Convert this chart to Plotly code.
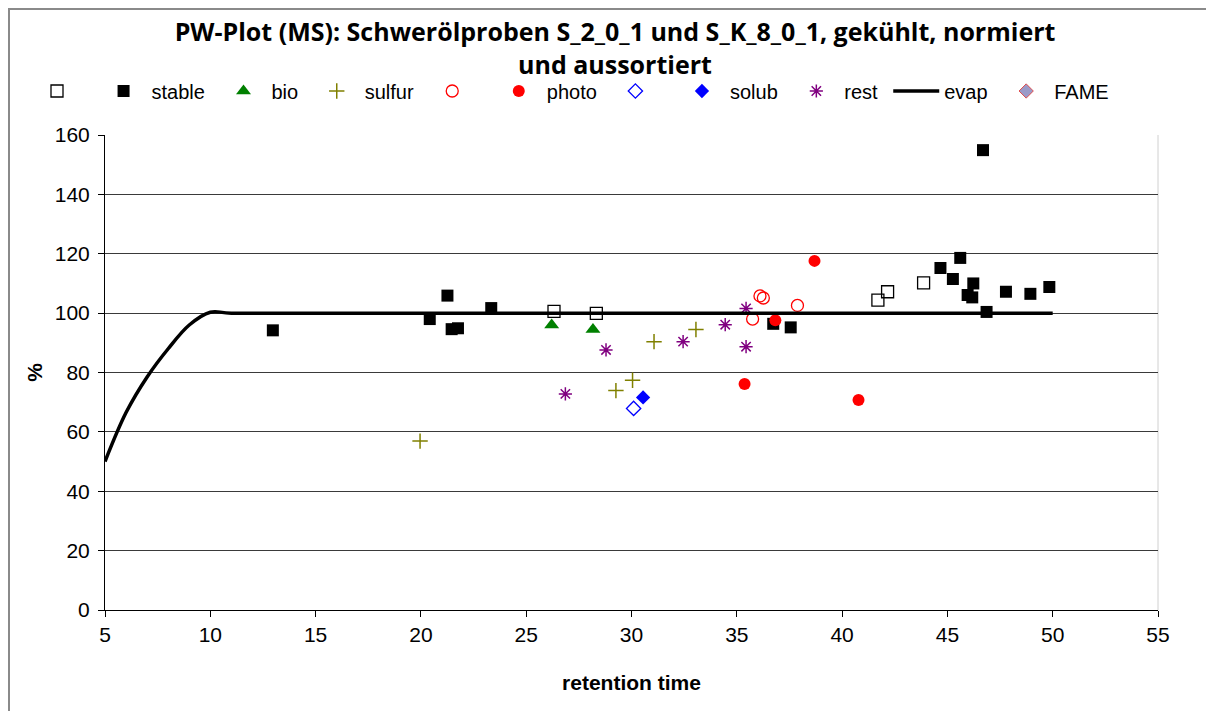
import plotly.graph_objects as go

# ---- data ----
open_sq_x = [26.32, 28.33, 41.70, 42.16, 43.87]
open_sq_y = [100.6, 99.9, 104.4, 107.2, 110.2]

stable_x = [12.97, 20.42, 21.26, 21.46, 21.76, 23.34, 36.73, 37.56, 44.67, 45.26, 45.61,
            46.69, 46.23, 45.96, 46.18, 46.86, 47.78, 48.94, 49.84]
stable_y = [94.2, 98.0, 105.9, 94.6, 94.9, 101.7, 96.4, 95.2, 115.2, 111.5, 118.6,
            154.9, 110.0, 106.1, 105.3, 100.4, 107.2, 106.5, 108.8]

bio_x = [26.21, 28.17]
bio_y = [96.0, 94.5]

sulfur_x = [19.96, 29.26, 30.05, 31.07, 33.06]
sulfur_y = [56.9, 73.9, 77.4, 90.4, 94.5]

open_circ_x = [35.75, 36.10, 36.26, 37.88]
open_circ_y = [98.0, 105.8, 105.1, 102.6]

photo_x = [38.69, 36.83, 35.37, 40.78]
photo_y = [117.6, 97.6, 76.1, 70.7]

open_dia_x = [30.10]
open_dia_y = [67.9]

solub_x = [30.55]
solub_y = [71.6]

rest_x = [26.86, 28.79, 32.45, 34.45, 35.44, 35.44]
rest_y = [72.8, 87.6, 90.4, 96.1, 101.6, 88.7]

evap_x = [5, 6, 7, 8, 9, 10, 11, 50]
evap_y = [50, 66.5, 78.5, 88, 96, 100.3, 100, 100]

fame_x = [None]
fame_y = [None]

x_ticks = [5, 10, 15, 20, 25, 30, 35, 40, 45, 50, 55]
y_ticks = [0, 20, 40, 60, 80, 100, 120, 140, 160]

FONT = "Liberation Sans, Arial, sans-serif"
NB = "\u00a0"

fig = go.Figure()

def pts(x, y, name, symbol, color, size, line_color=None, line_width=0):
    fig.add_trace(go.Scatter(
        x=x, y=y, mode="markers", name=name,
        marker=dict(symbol=symbol, color=color, size=size,
                    line=dict(color=line_color if line_color else color, width=line_width)),
    ))

pts(open_sq_x, open_sq_y, NB, "square-open", "#000000", 12, line_width=1.3)
pts(stable_x, stable_y, "stable" + NB, "square", "#000000", 12)
pts(bio_x, bio_y, "bio" + NB, "triangle-up", "#008000", 13)
pts(sulfur_x, sulfur_y, "sulfur" + NB, "cross-thin-open", "#808000", 11, line_width=1.5)
pts(open_circ_x, open_circ_y, NB, "circle-open", "#FF0000", 12, line_width=1.3)
pts(photo_x, photo_y, "photo" + NB, "circle", "#FF0000", 12)
pts(open_dia_x, open_dia_y, NB, "diamond-open", "#0000FF", 11, line_width=1.3)
pts(solub_x, solub_y, "solub" + NB, "diamond", "#0000FF", 11)
pts(rest_x, rest_y, "rest" + NB, "asterisk-open", "#800080", 11, line_width=1.5)

fig.add_trace(go.Scatter(
    x=evap_x, y=evap_y, mode="lines", name="evap" + NB,
    line=dict(color="#000000", width=3.5, shape="spline", smoothing=1),
))

fig.add_trace(go.Scatter(
    x=fame_x, y=fame_y, mode="markers", name="FAME",
    marker=dict(symbol="diamond", color="#9A9AC8", size=11, line=dict(color="#E05050", width=1)),
))

W, H = 1206, 703
L, R, T, B = 97, 56, 127, 101
pw, ph = W - L - R, H - T - B

fig.update_layout(
    width=W, height=H,
    margin=dict(l=L, r=R, t=T, b=B, pad=0),
    paper_bgcolor="white", plot_bgcolor="white",
    font=dict(family=FONT, size=20, color="#000000"),
    title=dict(
        text="PW-Plot (MS): Schwerölproben S_2_0_1 und S_K_8_0_1, gekühlt, normiert<br>und aussortiert",
        x=607 / W, xanchor="center", xref="container",
        y=1 - 33 / H, yanchor="top", yref="container",
        font=dict(family="Open Sans, sans-serif", size=25, color="#000000", weight="bold"),
    ),
    legend=dict(
        orientation="h", x=(21 - L) / pw, xanchor="left",
        y=1 + (T - 83) / ph, yanchor="middle",
        font=dict(family=FONT, size=20),
        bgcolor="rgba(0,0,0,0)", itemwidth=46, tracegroupgap=0,
    ),
    showlegend=True,
    xaxis=dict(
        range=[5, 55], tickvals=x_ticks, ticktext=[str(v) for v in x_ticks],
        showgrid=False, zeroline=False,
        showline=True, linecolor="#000000", linewidth=1,
        ticks="outside", ticklen=6, tickcolor="#000000",
        title=dict(text="<b>retention time</b>", font=dict(size=21), standoff=30),
        tickfont=dict(size=21),
    ),
    yaxis=dict(
        range=[0, 160], tickvals=y_ticks, ticktext=[str(v) for v in y_ticks],
        showgrid=True, gridcolor="#3a3a3a", gridwidth=1,
        zeroline=False,
        showline=True, linecolor="#000000", linewidth=1,
        ticks="outside", ticklen=6, tickcolor="#000000", ticklabelstandoff=4,
        title=dict(text="<b>%</b>", font=dict(size=21), standoff=6),
        tickfont=dict(size=21),
    ),
    shapes=[
        dict(type="rect", xref="paper", yref="paper",
             x0=(1 - L) / pw, x1=(W + 10 - L) / pw,
             y0=-(B + 10) / ph, y1=1 + (T - 1) / ph,
             line=dict(color="#8a8a8a", width=2), fillcolor="rgba(0,0,0,0)", layer="below"),
        dict(type="line", xref="paper", yref="paper", x0=1, x1=1, y0=0, y1=1,
             line=dict(color="#d0d0d0", width=1), layer="below"),
    ],
)

fig.write_html("out.html")
